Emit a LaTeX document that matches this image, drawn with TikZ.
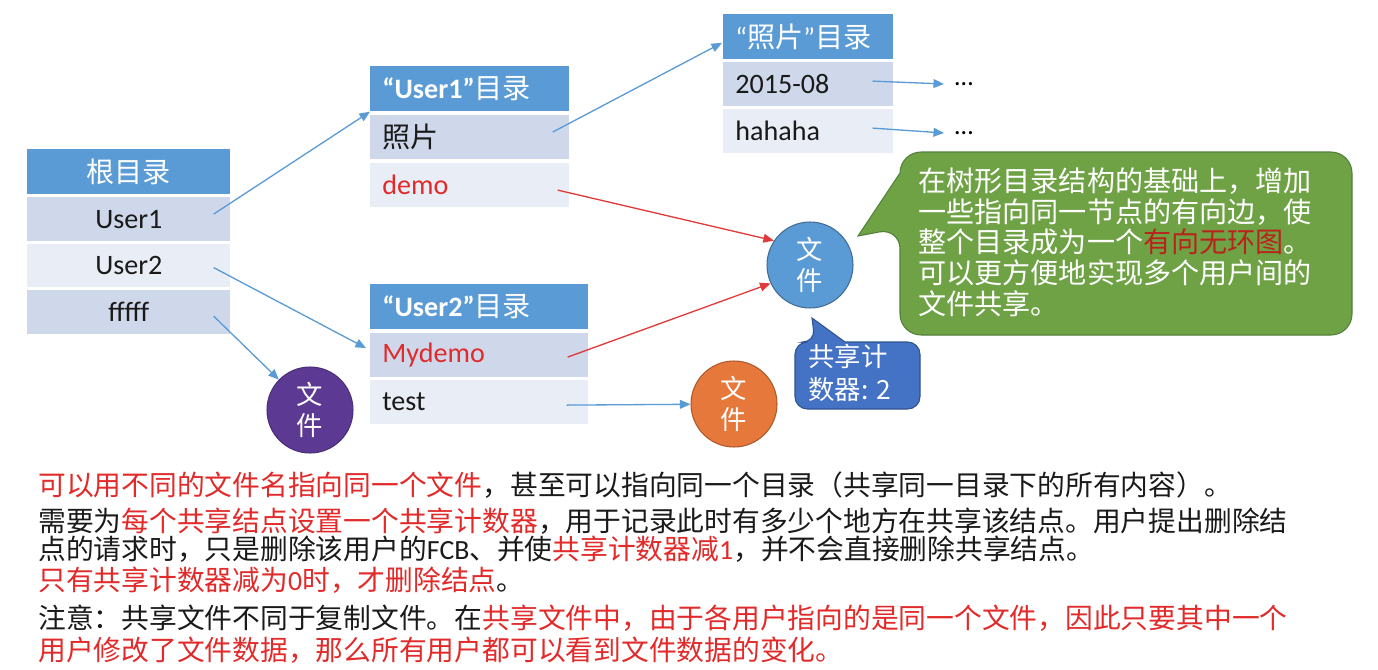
\documentclass[tikz,border=0pt]{standalone}
\usepackage{fontspec}
\setmainfont{Carlito}
\newfontfamily\zh{Noto Sans CJK SC}
\newfontfamily\lat{Carlito}
\usetikzlibrary{arrows.meta, positioning, calc}
\definecolor{hdrblue}{HTML}{5B9BD5}
\definecolor{rowdark}{HTML}{CFD8EA}
\definecolor{rowlight}{HTML}{E9EDF5}
\definecolor{arrblue}{HTML}{5B9BD5}
\definecolor{arrred}{HTML}{E03A3A}
\definecolor{txtred}{HTML}{E22A2A}
\definecolor{deepred}{HTML}{B8241C}
\definecolor{txtdark}{HTML}{1A1A1A}
\definecolor{filepurple}{HTML}{5C3A93}
\definecolor{fileblue}{HTML}{5B9BD5}
\definecolor{fileorange}{HTML}{E5783A}
\definecolor{notegreen}{HTML}{6FA245}
\definecolor{notegreenedge}{HTML}{52803A}
\definecolor{noteblue}{HTML}{4472C4}
\definecolor{noteblueedge}{HTML}{2F528F}

\tikzset{
  tcell/.style={anchor=north west, inner ysep=0pt, inner xsep=0.24cm, text=txtdark, font=\fontsize{16}{18}\selectfont},
  hdr/.style={tcell, fill=hdrblue, text=white, minimum height=0.9cm, font=\fontsize{16}{18}\selectfont},
  rowA/.style={tcell, fill=rowdark, minimum height=0.87cm},
  rowB/.style={tcell, fill=rowlight, minimum height=0.87cm},
  lft/.style={text width=#1, align=left},
  fileball/.style={circle, minimum size=1.72cm, inner sep=0pt, align=center, text=white, line width=0.6pt, font=\zh\fontsize{15}{17.5}\selectfont},
  ptr/.style={->, arrblue, line width=0.75pt},
  shareptr/.style={->, arrred, line width=0.75pt},
  say/.style={anchor=west, inner sep=0pt, text=txtdark, font=\zh\fontsize{15.8}{17}\selectfont}
}

\begin{document}
\begin{tikzpicture}[x=0.02cm, y=-0.02cm, >={Triangle[length=6pt, width=5pt]}]

% Background
\fill[white] (0,0) rectangle (1378,669);
\useasboundingbox (0,0) rectangle (1378,669);

% Root directory
\node[hdr, minimum width=4.06cm] (rootHead) at (27,149) {\zh 根目录};
\node[rowA, minimum width=4.06cm] (rootU1) at (27,197) {User1};
\node[rowB, minimum width=4.06cm] (rootU2) at (27,243.5) {User2};
\node[rowA, minimum width=4.06cm] (rootF) at (27,290) {fffff};

% User1 directory
\node[hdr, lft=3.5cm] (u1Head) at (370,66) {\textbf{“User1”}{\zh 目录}};
\node[rowA, lft=3.5cm] (u1Photo) at (370,115) {\zh 照片};
\node[rowB, lft=3.5cm, text=txtred] (u1Demo) at (370,163) {demo};

% Photo directory
\node[hdr, lft=2.92cm] (phHead) at (723,14) {“{\zh 照片}”{\zh 目录}};
\node[rowA, lft=2.92cm] (ph1) at (723,62) {2015-08};
\node[rowB, lft=2.92cm] (ph2) at (723,109) {hahaha};
\node[anchor=west, inner xsep=6pt, font=\fontsize{15}{16}\selectfont] (more1) at (944,84) {…};
\node[anchor=west, inner xsep=6pt, font=\fontsize{15}{16}\selectfont] (more2) at (944,133) {…};

% User2 directory
\node[hdr, lft=3.88cm] (u2Head) at (370,284) {\textbf{“User2”}{\zh 目录}};
\node[rowA, lft=3.88cm, text=txtred] (u2My) at (370,333) {Mydemo};
\node[rowB, lft=3.88cm] (u2Test) at (370,380) {test};

% Files
\node[fileball, fill=filepurple, draw=filepurple!80!black] (fileP) at (310,410) {文\\件};
\node[fileball, fill=fileblue, draw=fileblue!70!black] (fileB) at (810,265) {文\\件};
\node[fileball, fill=fileorange, draw=fileorange!75!black] (fileO) at (734,404) {文\\件};

% Pointers
\draw[ptr] ($(rootU1.east)+(-17,-5)$) -- (u1Head.south west);
\draw[ptr] ($(rootU2.east)+(-17,2)$) -- ($(u2My.west)+(-4,-7)$);
\draw[ptr] ($(rootF.east)+(-17,4)$) -- (fileP);
\draw[ptr] ($(u1Photo.east)+(-17,-5)$) -- ($(phHead.west)+(-1,6)$);
\draw[ptr] ($(ph1.east)+(-21,-3)$) -- (more1.west);
\draw[ptr] ($(ph2.east)+(-21,-3)$) -- (more2.west);
\draw[shareptr] ($(u1Demo.east)+(-12,5)$) -- (fileB.146);
\draw[shareptr] ($(u2My.east)+(-21,2)$) -- (fileB.205);
\draw[ptr] ($(u2Test.east)+(-22,3)$) -- (fileO);

% Green note
\filldraw[fill=notegreen, draw=notegreenedge, line width=0.6pt]
  (1100,152) [rounded corners=12pt] -- (1352,152) -- (1352,335) -- (900,335) -- (900,228)
  [sharp corners] -- (858,236) -- (900,173) [rounded corners=12pt] -- (900,152) -- cycle;
\node[anchor=north west, align=left, inner sep=0pt, text=white, font=\zh\fontsize{16}{17.6}\selectfont] (noteText) at (918,167)
  {在树形目录结构的基础上，增加\\一些指向同一节点的有向边，使\\整个目录成为一个\textcolor{deepred}{有向无环图}。\\可以更方便地实现多个用户间的\\文件共享。};

% Counter note
\filldraw[fill=noteblue, draw=noteblueedge, line width=0.6pt]
  (880,342) [rounded corners=7pt] -- (920,342) -- (920,409) -- (795,409) -- (795,342) -- (815,342)
  [sharp corners] -- (812,318) -- (845,342) -- cycle;
\node[anchor=north west, align=left, inner sep=0pt, text=white, font=\zh\fontsize{15}{18.8}\selectfont] (countText) at (808,344)
  {共享计\\数器: 2};

% Explanation
\node[say] (line1) at (38,485) {\textcolor{txtred}{可以用不同的文件名指向同一个文件}，甚至可以指向同一个目录（共享同一目录下的所有内容）。};
\node[say] (line2) at (38,521) {需要为\textcolor{txtred}{每个共享结点设置一个共享计数器}，用于记录此时有多少个地方在共享该结点。用户提出删除结};
\node[say] (line3) at (38,549.5) {点的请求时，只是删除该用户的{\lat FCB}、并使\textcolor{txtred}{共享计数器减{\lat 1}}，并不会直接删除共享结点。};
\node[say] (line4) at (38,580) {\textcolor{txtred}{只有共享计数器减为{\lat 0}时，才删除结点}。};
\node[say] (line5) at (38,618) {注意：共享文件不同于复制文件。在\textcolor{txtred}{共享文件中，由于各用户指向的是同一个文件，因此只要其中一个}};
\node[say] (line6) at (38,650) {\textcolor{txtred}{用户修改了文件数据，那么所有用户都可以看到文件数据的变化。}};

\end{tikzpicture}
\end{document}
